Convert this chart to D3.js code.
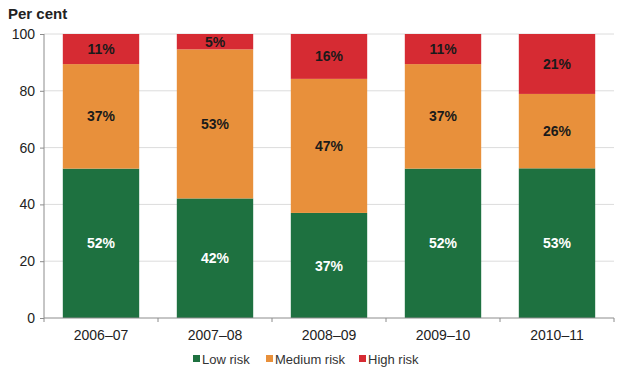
<!DOCTYPE html>
<html>
<head>
<meta charset="utf-8">
<script src="https://cdn.jsdelivr.net/npm/d3@7"></script>
<style>
  body { margin: 0; background: #fff; }
  #chart { width: 625px; height: 377px; }
  text { font-family: "Liberation Sans", Arial, sans-serif; }
</style>
</head>
<body>
<div id="chart"></div>
<script>
var years = ["2006\u201307", "2007\u201308", "2008\u201309", "2009\u201310", "2010\u201311"];
var lowRisk = [52.6, 42.1, 37.0, 52.6, 52.7];
var mediumRisk = [36.8, 52.5, 47.2, 36.8, 26.2];
var highRisk = [10.6, 5.4, 15.8, 10.6, 21.1];
var lowLabels = ["52%", "42%", "37%", "52%", "53%"];
var mediumLabels = ["37%", "53%", "47%", "37%", "26%"];
var highLabels = ["11%", "5%", "16%", "11%", "21%"];
var yTicks = [0, 20, 40, 60, 80, 100];

var series = [
  { name: "Low risk", values: lowRisk, labels: lowLabels, color: "#1e7140", text: "#fff" },
  { name: "Medium risk", values: mediumRisk, labels: mediumLabels, color: "#e8903b", text: "#1a1a1a" },
  { name: "High risk", values: highRisk, labels: highLabels, color: "#d62b33", text: "#1a1a1a" }
];

var svg = d3.select("#chart").append("svg")
    .attr("width", 625)
    .attr("height", 377)

var plotLeft = 44, plotRight = 614, plotTop = 34, plotBottom = 318;

var xScale = d3.scaleBand().domain(years).range([plotLeft, plotRight]).paddingInner(0.33).paddingOuter(0.165);
var yScale = d3.scaleLinear().domain([0, 100]).range([plotBottom, plotTop]);

// gridlines
svg.append("g")
    .selectAll("line")
    .data(yTicks.slice(1))
    .join("line")
    .attr("x1", plotLeft)
    .attr("x2", plotRight)
    .attr("y1", d => yScale(d))
    .attr("y2", d => yScale(d))
    .attr("stroke", "#dcdcdc")
    .attr("stroke-width", 1)

// stacked bars
var table = years.map(function(y, i) {
  return { year: y, low: lowRisk[i], medium: mediumRisk[i], high: highRisk[i] };
});
var stack = d3.stack().keys(["low", "medium", "high"])(table);

stack.forEach(function(layer, k) {
  var s = series[k];
  var g = svg.append("g");
  g.selectAll("rect")
    .data(layer)
    .join("rect")
    .attr("x", d => xScale(d.data.year))
    .attr("width", xScale.bandwidth())
    .attr("y", d => yScale(d[1]))
    .attr("height", d => yScale(d[0]) - yScale(d[1]))
    .attr("fill", s.color)
  g.selectAll("text")
    .data(layer)
    .join("text")
    .attr("x", d => xScale(d.data.year) + xScale.bandwidth() / 2)
    .attr("y", d => (yScale(d[0]) + yScale(d[1])) / 2)
    .attr("dy", "0.36em")
    .attr("text-anchor", "middle")
    .attr("font-size", "14px")
    .attr("font-weight", "bold")
    .attr("fill", s.text)
    .text((d, i) => s.labels[i])
});

// y axis
var yAxis = svg.append("g")
    .attr("transform", "translate(" + plotLeft + ",0)")
    .call(d3.axisLeft(yScale).tickValues(yTicks).tickSize(4).tickPadding(5))
yAxis.select(".domain").attr("stroke", "#8c8c8c").attr("d", "M0," + plotBottom + "V" + plotTop);
yAxis.selectAll(".tick line").attr("stroke", "#8c8c8c");
yAxis.selectAll(".tick text").attr("font-size", "14px").attr("fill", "#222").attr("font-family", "Liberation Sans, Arial, sans-serif");

// x axis
var xAxis = svg.append("g")
    .attr("transform", "translate(0," + plotBottom + ")")
    .call(d3.axisBottom(xScale).tickSize(0).tickPadding(12))
xAxis.select(".domain").attr("stroke", "#8c8c8c").attr("d", "M" + plotLeft + ",0H" + plotRight);
xAxis.selectAll(".tick text").attr("font-size", "14px").attr("fill", "#222").attr("font-family", "Liberation Sans, Arial, sans-serif");

// category boundary ticks
var step = xScale.step();
var bounds = years.map((y, i) => xScale(y) - xScale.paddingOuter() * step);
bounds.push(plotRight);
svg.append("g")
    .selectAll("line")
    .data(bounds)
    .join("line")
    .attr("x1", d => d)
    .attr("x2", d => d)
    .attr("y1", plotBottom)
    .attr("y2", plotBottom + 4)
    .attr("stroke", "#8c8c8c")

// title
svg.append("text")
    .attr("x", 8)
    .attr("y", 19)
    .attr("font-size", "15px")
    .attr("font-weight", "bold")
    .attr("fill", "#222")
    .text("Per cent")

// legend
var legendX = [193, 266, 359];
var legend = svg.append("g")
    .selectAll("g")
    .data(series)
    .join("g")
    .attr("transform", (d, i) => "translate(" + legendX[i] + ",359)")
legend.append("rect")
    .attr("x", 0)
    .attr("y", -4)
    .attr("width", 7)
    .attr("height", 7)
    .attr("fill", d => d.color)
legend.append("text")
    .attr("x", 9)
    .attr("y", 0)
    .attr("dy", "0.35em")
    .attr("font-size", "13px")
    .attr("fill", "#333")
    .text(d => d.name)
</script>
</body>
</html>
